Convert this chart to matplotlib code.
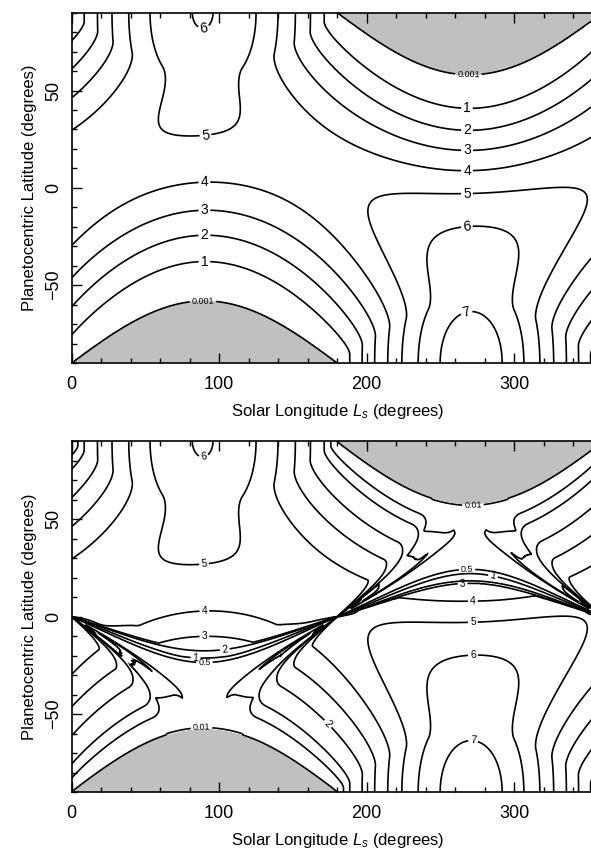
import numpy as np
import matplotlib
matplotlib.use('Agg')
import matplotlib.pyplot as plt
from matplotlib.ticker import MultipleLocator

plt.rcParams['font.family'] = ['Liberation Sans', 'DejaVu Sans']
plt.rcParams['mathtext.fontset'] = 'custom'
plt.rcParams['mathtext.rm'] = 'Liberation Sans'
plt.rcParams['mathtext.it'] = 'Liberation Sans:italic'

# Saturn orbit and shape
obliquity = 26.73        # deg
ecc = 0.0565
semimajor = 9.537        # AU
ls_perihelion = 279.0    # deg
solar_const = 1361.0     # W/m2 at 1 AU
r_equator = 60268.0      # km
r_polar = 54364.0        # km

# main rings: C, inner B, B, Cassini division, A  (km, normal optical depth)
ring_inner = [74658.0, 92000.0, 99000.0, 117580.0, 122170.0]
ring_outer = [92000.0, 99000.0, 117580.0, 122170.0, 136775.0]
ring_tau = [0.02, 0.6, 2.0, 0.1, 0.3]

levels_top = [0.001, 1, 2, 3, 4, 5, 6, 7]
levels_bot = [0.01, 0.5, 1, 2, 3, 4, 5, 6, 7]

# grids
ls = np.arange(0, 360.01, 0.5)
lat = np.arange(-90, 90.01, 0.25)
hour = np.linspace(-np.pi, np.pi, 600, endpoint=False) + np.pi / 600


def insolation(rings):
    lat_c = np.radians(lat)[:, None]
    lat_g = np.arctan((r_equator / r_polar) ** 2 * np.tan(lat_c))
    rad = r_equator * r_polar / np.sqrt((r_polar * np.cos(lat_c)) ** 2 + (r_equator * np.sin(lat_c)) ** 2)
    px = rad * np.cos(lat_c) * np.cos(hour)
    py = rad * np.cos(lat_c) * np.sin(hour)
    pz = rad * np.sin(lat_c)
    out = np.zeros((len(lat), len(ls)))
    for j, l in enumerate(ls):
        dec = np.arcsin(np.sin(np.radians(obliquity)) * np.sin(np.radians(l)))
        dist = semimajor * (1 - ecc ** 2) / (1 + ecc * np.cos(np.radians(l - ls_perihelion)))
        flux = solar_const / dist ** 2
        mu = np.cos(lat_g) * np.cos(dec) * np.cos(hour) + np.sin(lat_g) * np.sin(dec)
        mu = np.clip(mu, 0, None)
        if rings and abs(np.sin(dec)) > 1e-9:
            t = -pz / np.sin(dec)
            rho = np.hypot(px + t * np.cos(dec), py)
            tau = np.zeros_like(rho)
            for a, b, tt in zip(ring_inner, ring_outer, ring_tau):
                tau[(rho >= a) & (rho < b)] = tt
            tau = np.where(t > 0, tau, 0.0)
            mu = mu * np.exp(-tau / abs(np.sin(dec)))
        out[:, j] = flux * mu.mean(axis=1)
    return out


q_top = insolation(False)
q_bot = insolation(True)

# label spots (Ls, lat)
top_labels = [(0.001, (89, -59)), (1, (90, -39)), (2, (90, -25)), (3, (90, -12)), (4, (90, 2)),
              (5, (91, 25)), (6, (90, 79)),
              (0.001, (269, 59)), (1, (268, 41)), (2, (268, 30)), (3, (268, 19)), (4, (268, 8)),
              (5, (268, -4)), (6, (268, -20.5)), (7, (268, -65))]
bot_labels = [(0.01, (88, -57)), (0.5, (90, -24)), (1, (84, -21)), (2, (104, -18)), (3, (90, -12)),
              (4, (90, 2)), (5, (90, 25)), (6, (90, 79)),
              (0.01, (272, 58)), (0.5, (268, 26)), (1, (286, 22)), (3, (265, 14)), (4, (272, 8.6)),
              (5, (272, -3)), (6, (272, -19.6)), (7, (272, -64.6)), (2, (174, -54.7))]

fig = plt.figure(figsize=(5.91, 8.52), dpi=100)
ax1 = fig.add_axes([0.1213, 0.5739, 0.8985, 0.4112])
ax2 = fig.add_axes([0.1213, 0.0702, 0.8985, 0.4120])


def panel(ax, q, levels, labels, small, big):
    ax.contourf(ls, lat, q, levels=[-1, 0.001], colors=['#c0c0c0'])
    sets = {}
    for lev in levels:
        sets[lev] = ax.contour(ls, lat, q, levels=[lev], colors='k', linewidths=1.2)
    for lev, pos in labels:
        size = small if lev < 1 else big
        sets[lev].clabel(manual=[pos], fmt=lambda v: '%g' % v, fontsize=size, inline_spacing=2)
    ax.set_xlim(0, 360)
    ax.set_ylim(-90, 90)
    ax.set_xticks([0, 100, 200, 300])
    ax.set_yticks([-50, 0, 50])
    ax.xaxis.set_minor_locator(MultipleLocator(20))
    ax.yaxis.set_minor_locator(MultipleLocator(10))
    ax.tick_params(which='both', direction='in', top=True, right=True, labelsize=13, width=1)
    ax.tick_params(which='major', length=7)
    ax.tick_params(which='minor', length=3.5)
    ax.tick_params(axis='x', pad=9)
    ax.tick_params(axis='y', pad=7)
    plt.setp(ax.get_yticklabels(), rotation=90, va='center')
    for s in ax.spines.values():
        s.set_linewidth(1.2)
    ax.set_xlabel('Solar Longitude $L_s$ (degrees)', fontsize=12, labelpad=7)
    ax.set_ylabel('Planetocentric Latitude (degrees)', fontsize=12, labelpad=6)


panel(ax1, q_top, levels_top, top_labels, 6.5, 10)
panel(ax2, q_bot, levels_bot, bot_labels, 6.5, 7.5)

fig.savefig('out.png', dpi=100)
